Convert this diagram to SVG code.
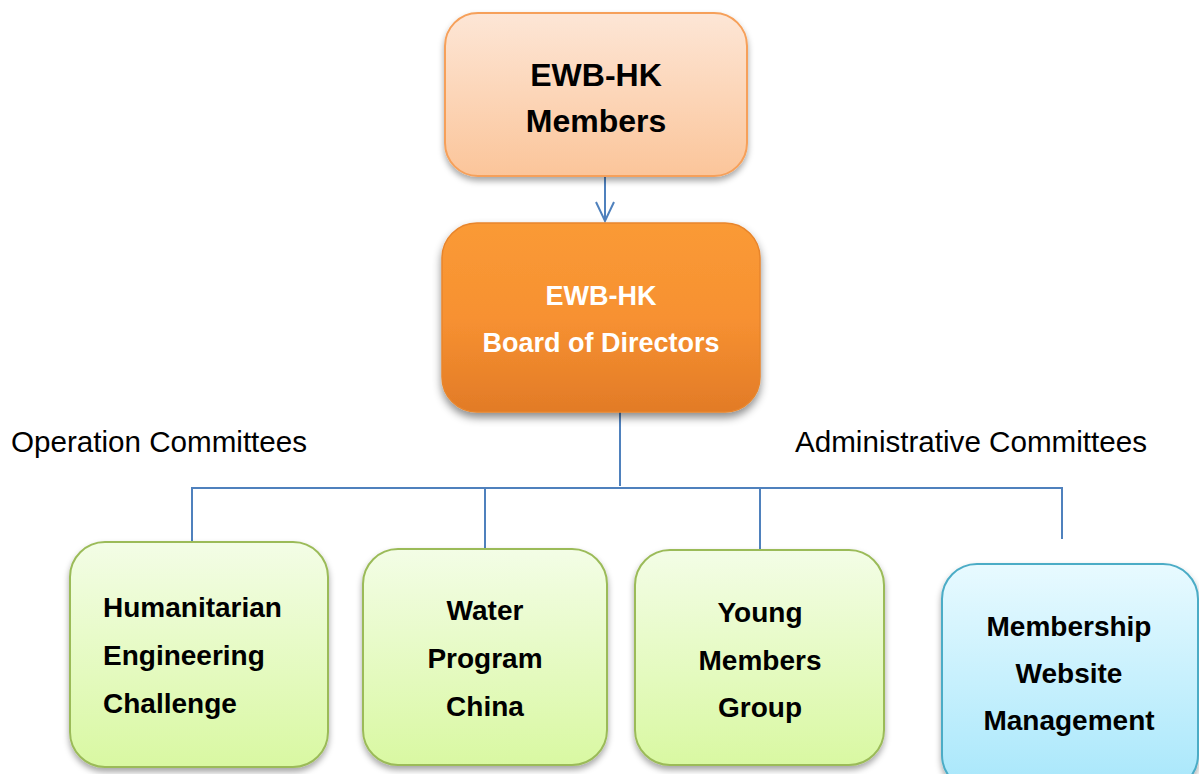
<svg xmlns="http://www.w3.org/2000/svg" width="1199" height="774" viewBox="0 0 1199 774">
<style>
.t{font-family:"Liberation Sans",Arial,sans-serif;font-weight:bold;text-anchor:middle;fill:#000}
.w{fill:#fff}
.lab{font-family:"Liberation Sans",Arial,sans-serif;font-size:29.6px;fill:#000}
.conn{stroke:#4f81bd;stroke-width:2;fill:none}
.green{fill:url(#gGreen);stroke:#9bbb59;stroke-width:2;filter:url(#sh)}
.blue{fill:url(#gBlue);stroke:#4bacc6;stroke-width:2;filter:url(#sh)}
</style>
<defs>
<linearGradient id="gPeach" x1="0" y1="0" x2="0" y2="1">
<stop offset="0" stop-color="#fde6d6"/><stop offset="1" stop-color="#fbc59a"/>
</linearGradient>
<linearGradient id="gOrange" x1="0" y1="0" x2="0" y2="1">
<stop offset="0" stop-color="#fa9a36"/><stop offset="0.5" stop-color="#f79131"/><stop offset="1" stop-color="#e27b27"/>
</linearGradient>
<linearGradient id="gGreen" x1="0" y1="0" x2="0" y2="1">
<stop offset="0" stop-color="#f3fde6"/><stop offset="1" stop-color="#d9f8a2"/>
</linearGradient>
<linearGradient id="gBlue" x1="0" y1="0" x2="0" y2="1">
<stop offset="0" stop-color="#e8faff"/><stop offset="1" stop-color="#a8e7fb"/>
</linearGradient>
<filter id="sh" x="-10%" y="-10%" width="120%" height="130%">
<feDropShadow dx="0" dy="4" stdDeviation="3" flood-color="#000" flood-opacity="0.35"/>
</filter>
<filter id="sh2" x="-10%" y="-10%" width="120%" height="130%">
<feDropShadow dx="0" dy="5" stdDeviation="4" flood-color="#000" flood-opacity="0.45"/>
</filter>
<marker id="arr" markerUnits="userSpaceOnUse" markerWidth="24" markerHeight="22" refX="20" refY="10" orient="auto" viewBox="0 0 24 22">
<path d="M1,1 L20,10 L1,19" fill="none" stroke="#4f81bd" stroke-width="2"/>
</marker>
</defs>

<g id="connectors">
<line class="conn" x1="605" y1="177" x2="605" y2="221" marker-end="url(#arr)"/>
<line class="conn" x1="620" y1="412" x2="620" y2="486"/>
<polyline class="conn" points="192,541 192,488 1062,488 1062,539"/>
<line class="conn" x1="485" y1="488" x2="485" y2="549"/>
<line class="conn" x1="760" y1="488" x2="760" y2="550"/>
</g>

<g id="members">
<rect x="445" y="13" width="302" height="163" rx="33" fill="url(#gPeach)" stroke="#f6a05a" stroke-width="2" filter="url(#sh)"/>
<text class="t" x="596" y="86" font-size="32">EWB-HK</text>
<text class="t" x="596" y="132" font-size="32">Members</text>
</g>

<g id="board">
<rect x="442" y="223" width="318" height="189" rx="35" fill="url(#gOrange)" stroke="#e8852c" stroke-width="1.5" filter="url(#sh2)"/>
<text class="t w" x="601" y="305" font-size="27">EWB-HK</text>
<text class="t w" x="601" y="352" font-size="27">Board of Directors</text>
</g>

<g id="labels">
<text class="lab" x="11" y="452">Operation Committees</text>
<text class="lab" x="795" y="452">Administrative Committees</text>
</g>

<g id="hec">
<rect class="green" x="70" y="542" width="258" height="225" rx="35"/>
<text class="t" x="103" y="617" font-size="28" style="text-anchor:start">Humanitarian</text>
<text class="t" x="103" y="665" font-size="28" style="text-anchor:start">Engineering</text>
<text class="t" x="103" y="713" font-size="28" style="text-anchor:start">Challenge</text>
</g>

<g id="water">
<rect class="green" x="363" y="549" width="244" height="216" rx="35"/>
<text class="t" x="485" y="620" font-size="28">Water</text>
<text class="t" x="485" y="668" font-size="28">Program</text>
<text class="t" x="485" y="716" font-size="28">China</text>
</g>

<g id="young">
<rect class="green" x="635" y="550" width="249" height="215" rx="35"/>
<text class="t" x="760" y="622" font-size="28">Young</text>
<text class="t" x="760" y="670" font-size="28">Members</text>
<text class="t" x="760" y="717" font-size="28">Group</text>
</g>

<g id="membership">
<rect class="blue" x="942" y="564" width="256" height="226" rx="35"/>
<text class="t" x="1069" y="636" font-size="28">Membership</text>
<text class="t" x="1069" y="683" font-size="28">Website</text>
<text class="t" x="1069" y="730" font-size="28">Management</text>
</g>
</svg>
